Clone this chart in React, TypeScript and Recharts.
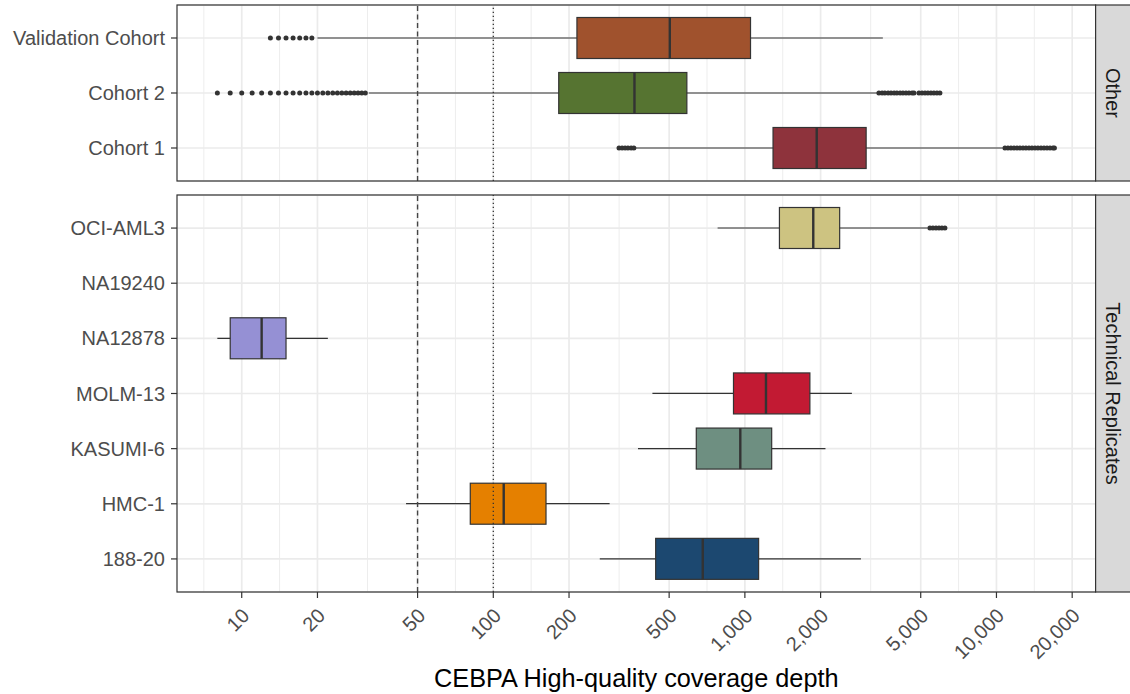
import React from 'react';
import { ComposedChart, Bar, XAxis, YAxis, CartesianGrid, ReferenceLine } from 'recharts';

const FONT = "'Liberation Sans', Arial, Helvetica, sans-serif";

const X_DOMAIN: [number, number] = [5.53, 24780];
const MAJOR_BREAKS = [10, 20, 50, 100, 200, 500, 1000, 2000, 5000, 10000, 20000];
const MINOR_BREAKS = [7.07, 14.14, 31.62, 70.71, 141.4, 316.2, 707.1, 1414, 3162, 7071, 14142];

// ---- Facet "Other" ----
const otherCategories = ['Validation Cohort', 'Cohort 2', 'Cohort 1'];
const otherMin = [20, 32, 368];
const otherQ1 = [215, 182, 1294];
const otherMedian = [503, 364, 1930];
const otherQ3 = [1053, 588, 3034];
const otherMax = [3535, 3360, 10600];
const otherOutliers = [
  [13, 14, 15, 16, 17, 18, 19],
  [8, 9, 10, 11, 12, 13, 14, 15, 16, 17, 18, 19, 20, 21, 22, 23, 24, 25, 26, 27, 28, 29, 30, 31,
   3410, 3510, 3600, 3710, 3810, 3920, 4020, 4140, 4250, 4370, 4490, 4620, 4700,
   4920, 5060, 5200, 5340, 5490, 5640, 5800, 5960],
  [316, 325, 334, 343, 353, 362,
   10810, 11110, 11420, 11740, 12070, 12400, 12750, 13100, 13470, 13840, 14230, 14620, 15030, 15450, 15880, 16320, 16770, 17000],
];
const otherColors = ['#A0522D', '#567431', '#8E333C'];

// ---- Facet "Technical Replicates" ----
const techCategories = ['OCI-AML3', 'NA19240', 'NA12878', 'MOLM-13', 'KASUMI-6', 'HMC-1', '188-20'];
const techMin = [779, null, 8, 429, 376, 45, 265];
const techQ1 = [1372, null, 9, 901, 641, 81, 442];
const techMedian = [1870, null, 12, 1213, 959, 110, 680];
const techQ3 = [2381, null, 15, 1813, 1278, 162, 1134];
const techMax = [5330, null, 22, 2663, 2091, 290, 2893];
const techOutliers = [
  [5440, 5590, 5750, 5910, 6070, 6240],
  [], [], [], [], [], [],
];
const techColors = ['#CDC381', '#999999', '#9590D4', '#C21A33', '#6E8F81', '#E58000', '#1C4870'];

function buildRows(cats: string[], mn: any[], q1: any[], md: any[], q3: any[], mx: any[], out: number[][], cols: string[]) {
  return cats.map((c, i) => ({
    category: c,
    min: mn[i], q1: q1[i], median: md[i], q3: q3[i], max: mx[i],
    outliers: out[i], color: cols[i],
    range: mn[i] != null ? [mn[i], mx[i]] : null,
  }));
}

const otherRows = buildRows(otherCategories, otherMin, otherQ1, otherMedian, otherQ3, otherMax, otherOutliers, otherColors);
const techRows = buildRows(techCategories, techMin, techQ1, techMedian, techQ3, techMax, techOutliers, techColors);

const BoxShape = (props: any) => {
  const { x, y, width, height, payload } = props;
  if (!payload || payload.min == null || !isFinite(x) || !isFinite(width)) return <g />;
  const lmin = Math.log(payload.min);
  const lmax = Math.log(payload.max);
  const pos = (v: number) => x + (width * (Math.log(v) - lmin)) / (lmax - lmin);
  const cy = y + height / 2;
  const xq1 = pos(payload.q1);
  const xq3 = pos(payload.q3);
  const xmd = pos(payload.median);
  return (
    <g>
      <line x1={x} x2={x + width} y1={cy} y2={cy} stroke="#333333" strokeWidth={1.2} />
      <rect x={xq1} y={y} width={xq3 - xq1} height={height} fill={payload.color} stroke="#333333" strokeWidth={1.2} />
      <line x1={xmd} x2={xmd} y1={y} y2={y + height} stroke="#333333" strokeWidth={2.4} />
      {payload.outliers.map((o: number, i: number) => (
        <circle key={i} cx={pos(o)} cy={cy} r={2.5} fill="#333333" />
      ))}
    </g>
  );
};

const scaleOf = (xAxis: any, offset: any) => (v: number) => {
  const s = xAxis && xAxis.scale;
  if (typeof s === 'function') return s(v);
  if (s && typeof s.map === 'function') return s.map(v);
  const l0 = Math.log(X_DOMAIN[0]);
  const l1 = Math.log(X_DOMAIN[1]);
  return offset.left + (offset.width * (Math.log(v) - l0)) / (l1 - l0);
};
const gridGen = (vals: number[]) => ({ xAxis, offset }: any) => vals.map(scaleOf(xAxis, offset));

const XTick = (props: any) => {
  const { x, y, payload } = props;
  const tx = x + 9;
  const ty = y + 17;
  return (
    <text x={tx} y={ty} textAnchor="end" transform={`rotate(-45 ${tx} ${ty})`} fill="#4d4d4d" fontSize={20} fontFamily={FONT}>
      {Number(payload.value).toLocaleString('en-US')}
    </text>
  );
};

const yAxisProps = {
  type: 'category' as const,
  dataKey: 'category',
  width: 177,
  padding: { top: 5.5, bottom: 5.5 },
  tickSize: 6,
  tickMargin: 6,
  axisLine: false,
  tickLine: { stroke: '#333333', strokeWidth: 1.2 },
  tick: { fill: '#4d4d4d', fontSize: 20, fontFamily: FONT },
  interval: 0 as const,
};

const refLines = () => [
  <ReferenceLine key="r50" x={50} stroke="#444444" strokeWidth={1.4} strokeDasharray="5 3.5" />,
  <ReferenceLine key="r100" x={100} stroke="#333333" strokeWidth={1.3} strokeDasharray="1.3 2.7" />,
];

export default function App() {
  return (
    <div style={{ position: 'absolute', left: 0, top: 0, width: 1130, height: 694, background: '#fff', overflow: 'hidden' }}>
      <div style={{ position: 'absolute', left: 0, top: 0 }}>
        <ComposedChart layout="vertical" width={1130} height={190} data={otherRows} margin={{ top: 5, right: 34.4, bottom: 9, left: 0 }}>
          <CartesianGrid horizontal={false} vertical verticalCoordinatesGenerator={gridGen(MINOR_BREAKS)} stroke="#ebebeb" strokeWidth={0.9} />
          <CartesianGrid horizontal vertical verticalCoordinatesGenerator={gridGen(MAJOR_BREAKS)} stroke="#ebebeb" strokeWidth={1.7} />
          <XAxis type="number" scale="log" domain={X_DOMAIN} allowDataOverflow ticks={MAJOR_BREAKS} hide />
          <YAxis {...yAxisProps} />
          <Bar dataKey="range" barSize={41} shape={BoxShape} isAnimationActive={false} />
          {refLines()}
        </ComposedChart>
      </div>
      <div style={{ position: 'absolute', left: 0, top: 190 }}>
        <ComposedChart layout="vertical" width={1130} height={504} data={techRows} margin={{ top: 5, right: 34.4, bottom: 0, left: 0 }}>
          <CartesianGrid horizontal={false} vertical verticalCoordinatesGenerator={gridGen(MINOR_BREAKS)} stroke="#ebebeb" strokeWidth={0.9} />
          <CartesianGrid horizontal vertical verticalCoordinatesGenerator={gridGen(MAJOR_BREAKS)} stroke="#ebebeb" strokeWidth={1.7} />
          <XAxis
            type="number"
            scale="log"
            domain={X_DOMAIN}
            allowDataOverflow
            ticks={MAJOR_BREAKS}
            height={102}
            tickSize={6}
            axisLine={false}
            tickLine={{ stroke: '#333333', strokeWidth: 1.2 }}
            tick={<XTick />}
            interval={0}
            label={{ value: 'CEBPA High-quality coverage depth', position: 'insideBottom', offset: 7, fill: '#000000', fontSize: 25.3, fontFamily: FONT }}
          />
          <YAxis {...yAxisProps} />
          <Bar dataKey="range" barSize={41} shape={BoxShape} isAnimationActive={false} />
          {refLines()}
        </ComposedChart>
      </div>
      <svg width={1130} height={694} style={{ position: 'absolute', left: 0, top: 0, pointerEvents: 'none' }}>
        <rect x={177} y={5} width={918.6} height={176} fill="none" stroke="#333333" strokeWidth={1.2} />
        <rect x={177} y={195} width={918.6} height={397} fill="none" stroke="#333333" strokeWidth={1.2} />
        <rect x={1095.6} y={5} width={36} height={176} fill="#d9d9d9" stroke="#333333" strokeWidth={1.2} />
        <rect x={1095.6} y={195} width={36} height={397} fill="#d9d9d9" stroke="#333333" strokeWidth={1.2} />
        <text x={1113} y={93} transform="rotate(90 1113 93)" textAnchor="middle" dominantBaseline="central" fontSize={20} fontFamily={FONT} fill="#1a1a1a">Other</text>
        <text x={1113} y={393.5} transform="rotate(90 1113 393.5)" textAnchor="middle" dominantBaseline="central" fontSize={20} fontFamily={FONT} fill="#1a1a1a">Technical Replicates</text>
      </svg>
    </div>
  );
}
